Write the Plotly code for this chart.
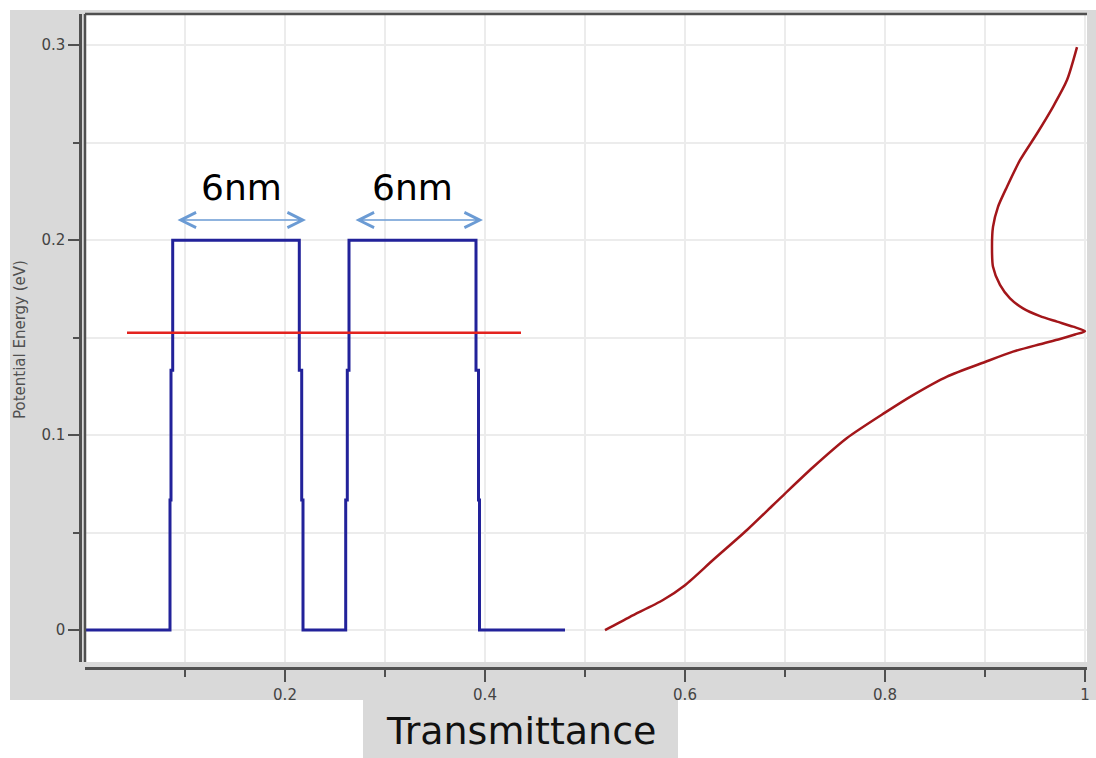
import plotly.graph_objects as go

W, H = 1096, 758

# ---- data ----
pot_x = [0.001, 0.085, 0.085, 0.086, 0.086, 0.0877, 0.0877, 0.2143, 0.2143, 0.2167, 0.2167,
         0.218, 0.218, 0.2607, 0.2607, 0.2623, 0.2623, 0.264, 0.264, 0.391, 0.391, 0.3935,
         0.3935, 0.3945, 0.3945, 0.48]
pot_y = [0, 0, 0.0667, 0.0667, 0.1333, 0.1333, 0.2, 0.2, 0.1333, 0.1333, 0.0667,
         0.0667, 0, 0, 0.0667, 0.0667, 0.1333, 0.1333, 0.2, 0.2, 0.1333, 0.1333,
         0.0667, 0.0667, 0, 0]

level_x = [0.042, 0.436]
level_y = [0.1525, 0.1525]

trans_T = [0.520, 0.545, 0.578, 0.600, 0.628, 0.662, 0.700, 0.728, 0.762, 0.800, 0.828,
           0.862, 0.900, 0.928, 0.955, 0.975, 0.990, 1.000, 0.988, 0.972, 0.955, 0.938,
           0.925, 0.915, 0.908, 0.907, 0.908, 0.913, 0.922, 0.935, 0.952, 0.968, 0.982, 0.992]
trans_E = [0.000, 0.0068, 0.0154, 0.0230, 0.0359, 0.0513, 0.0700, 0.0835, 0.0985, 0.1115, 0.1205,
           0.1300, 0.1375, 0.1428, 0.1466, 0.1493, 0.1516, 0.1533, 0.1556, 0.1582, 0.1610, 0.1650,
           0.1701, 0.1770, 0.1863, 0.1966, 0.2068, 0.2171, 0.2274, 0.2410, 0.2547, 0.2684, 0.2821, 0.2990]

x_tickvals = [0.2, 0.4, 0.6, 0.8, 1.0]
x_ticktext = ["0.2", "0.4", "0.6", "0.8", "1"]
x_minor = [0.1, 0.3, 0.5, 0.7, 0.9]
y_tickvals = [0, 0.1, 0.2, 0.3]
y_ticktext = ["0", "0.1", "0.2", "0.3"]
y_minor = [0.05, 0.15, 0.25]

width_labels = ["6nm", "6nm"]
width_label_x = [0.156, 0.327]
width_label_y = [0.2272, 0.2272]
arrow_start = [0.091, 0.269]
arrow_end = [0.221, 0.398]
arrow_y = [0.2103, 0.2103]

# ---- layout helpers (pixel -> paper) ----
def px(x):
    return x / W

def py(y):
    return 1 - y / H

L, R, T, B = 85, 1087, 14, 662
GRAY = "#d9d9d9"
AX = "#505050"
GRID = "#ececec"
TICKFONT = dict(family="DejaVu Sans", size=15, color="#444444")

fig = go.Figure()
fig.add_trace(go.Scatter(x=pot_x, y=pot_y, mode="lines",
                         line=dict(color="#22229a", width=3), hoverinfo="skip"))
fig.add_trace(go.Scatter(x=level_x, y=level_y, mode="lines",
                         line=dict(color="#e3231f", width=2.5), hoverinfo="skip"))
fig.add_trace(go.Scatter(x=trans_T, y=trans_E, mode="lines",
                         line=dict(color="#a3161a", width=2.5, shape="spline", smoothing=0.7),
                         hoverinfo="skip"))

shapes = [
    dict(type="rect", xref="paper", yref="paper", x0=px(10), x1=px(W), y0=py(700), y1=py(10),
         fillcolor=GRAY, line=dict(width=0), layer="below"),
    dict(type="rect", xref="paper", yref="paper", x0=px(363), x1=px(678), y0=py(H), y1=py(698),
         fillcolor=GRAY, line=dict(width=0), layer="below"),
    dict(type="rect", xref="paper", yref="paper", x0=px(L), x1=px(R), y0=py(B), y1=py(T),
         fillcolor="white", line=dict(width=0), layer="below"),
    dict(type="line", xref="paper", yref="paper", x0=px(L), x1=px(R), y0=py(T), y1=py(T),
         line=dict(color=AX, width=2.5), layer="above"),
    dict(type="line", xref="paper", yref="paper", x0=px(L), x1=px(L), y0=py(B), y1=py(T),
         line=dict(color=AX, width=2.5), layer="above"),
]

annotations = []
for lbl, lx, ly in zip(width_labels, width_label_x, width_label_y):
    annotations.append(dict(x=lx, y=ly, xref="x", yref="y", text=lbl, showarrow=False,
                            xanchor="center", yanchor="middle",
                            font=dict(family="DejaVu Sans", size=36, color="black")))
for a0, a1, ay in zip(arrow_start, arrow_end, arrow_y):
    annotations.append(dict(x=a1, y=ay, ax=a0, ay=ay, xref="x", yref="y", axref="x", ayref="y",
                            text="", showarrow=True, arrowside="end+start",
                            arrowhead=5, startarrowhead=5, arrowsize=2, startarrowsize=2,
                            arrowwidth=1.5, arrowcolor="#6b9bd4", standoff=0, startstandoff=0))
annotations.append(dict(x=px(520.5), y=py(731), xref="paper", yref="paper", text="Transmittance",
                        showarrow=False, xanchor="center", yanchor="middle",
                        font=dict(family="DejaVu Sans", size=38, color="#111111")))
annotations.append(dict(x=px(20), y=py(340), xref="paper", yref="paper", text="Potential Energy (eV)",
                        showarrow=False, textangle=-90, xanchor="center", yanchor="middle",
                        font=dict(family="DejaVu Sans", size=15, color="#505050")))

fig.update_layout(
    width=W, height=H, margin=dict(l=0, r=0, t=0, b=0, pad=0, autoexpand=False),
    paper_bgcolor="white", plot_bgcolor="white", showlegend=False,
    shapes=shapes, annotations=annotations,
    xaxis=dict(domain=[px(L), px(R)], range=[0, 1.002], anchor="free", position=py(668),
               showline=True, linecolor=AX, linewidth=2.5, zeroline=False,
               tickmode="array", tickvals=x_tickvals, ticktext=x_ticktext,
               ticks="outside", ticklen=12, tickwidth=2, tickcolor=AX, tickfont=TICKFONT,
               showgrid=True, gridcolor=GRID, gridwidth=1.5, automargin=False,
               minor=dict(tickmode="array", tickvals=x_minor, ticks="outside", ticklen=7,
                          tickwidth=2, tickcolor=AX, showgrid=True, gridcolor=GRID, gridwidth=1.5)),
    yaxis=dict(domain=[py(B), py(T)], range=[-0.0164, 0.316], anchor="free", position=px(80),
               showline=True, linecolor=AX, linewidth=2.5, zeroline=False,
               tickmode="array", tickvals=y_tickvals, ticktext=y_ticktext,
               ticks="outside", ticklen=11, tickwidth=2, tickcolor=AX, tickfont=TICKFONT,
               showgrid=True, gridcolor=GRID, gridwidth=1.5, automargin=False,
               minor=dict(tickmode="array", tickvals=y_minor, ticks="outside", ticklen=6,
                          tickwidth=2, tickcolor=AX, showgrid=True, gridcolor=GRID, gridwidth=1.5)),
)

fig.write_html("out.html")
